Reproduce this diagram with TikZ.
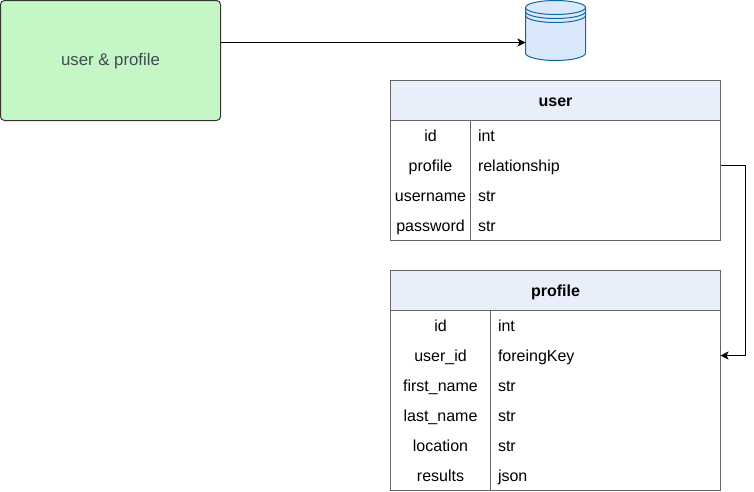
\documentclass[tikz,border=0pt]{standalone}
\usepackage{fontspec}
\setmainfont{Liberation Sans}
\usetikzlibrary{arrows.meta}
\definecolor{boxgreen}{HTML}{C4F7C5}
\definecolor{boxtext}{HTML}{3F4B4F}
\definecolor{headblue}{HTML}{E8EFFB}
\definecolor{dbfill}{HTML}{DAE8FC}
\definecolor{dbline}{HTML}{10699F}
\begin{document}
\begin{tikzpicture}[x=1pt,y=-1pt,line width=1pt,
    every node/.style={outer sep=0pt,inner sep=0pt,text height=14.5pt,text depth=2.5pt,font=\fontsize{16}{18}\selectfont},
    service/.style={draw=black!80,fill=boxgreen,rounded corners=4pt,minimum width=220pt,minimum height=120pt,text=boxtext,text height=13pt,text depth=2.5pt,font=\fontsize{16.8}{19}\selectfont},
    header/.style={draw=black!60,fill=headblue,minimum width=330pt,minimum height=40pt,font=\fontsize{16}{18}\selectfont\bfseries},
    tablebody/.style={draw=black!60,fill=white,minimum width=330pt},
    conn/.style={-{Stealth[length=8pt,width=8pt,inset=2pt]}}]

    \useasboundingbox (0,0) rectangle (754,491);

    \node[service] (service) at (110.5,60.5) {user \& profile};

    % database
    \coordinate (db) at (525.5,42.5);
    \draw[dbline,fill=dbfill] (525.5,7.5) arc[start angle=180,end angle=360,x radius=30,y radius=7]
        -- (585.5,53) arc[start angle=0,end angle=180,x radius=30,y radius=7.5] -- cycle;
    \draw[dbline] (525.5,7.5) arc[start angle=180,end angle=0,x radius=30,y radius=7];
    \draw[dbline] (525.5,11.5) arc[start angle=180,end angle=0,x radius=30,y radius=7];
    \draw[dbline] (525.5,15.5) arc[start angle=180,end angle=0,x radius=30,y radius=7];

    % user table
    \node[header] (user) at (555.5,100.5) {user};
    \node[tablebody,minimum height=120pt] (userbody) at (555.5,180.5) {};
    \draw[black!60] (470.5,120.5) -- (470.5,240.5);
    \foreach \y/\k/\v in {135.5/id/int, 165.5/profile/relationship, 195.5/username/str, 225.5/password/str} {
        \node (user_\k) at (430.5,\y) {\k};
        \node[anchor=west] (usertype_\k) at (478,\y) {\v};
    }
    \coordinate (user_out) at (720.5,165.5);

    % profile table
    \node[header] (profile) at (555.5,290.5) {profile};
    \node[tablebody,minimum height=180pt] (profilebody) at (555.5,400.5) {};
    \draw[black!60] (490.5,310.5) -- (490.5,490.5);
    \foreach \y/\k/\v in {325.5/id/int, 355.5/user\_id/foreingKey, 385.5/first\_name/str, 415.5/last\_name/str, 445.5/location/str, 475.5/results/json} {
        \node at (440.5,\y) {\k};
        \node[anchor=west] at (498,\y) {\v};
    }
    \coordinate (profile_in) at (720.5,355.5);

    \draw[conn] (service.east |- db) -- (db);
    \draw[conn] (user_out) -- ++(25,0) |- (profile_in);
\end{tikzpicture}
\end{document}
